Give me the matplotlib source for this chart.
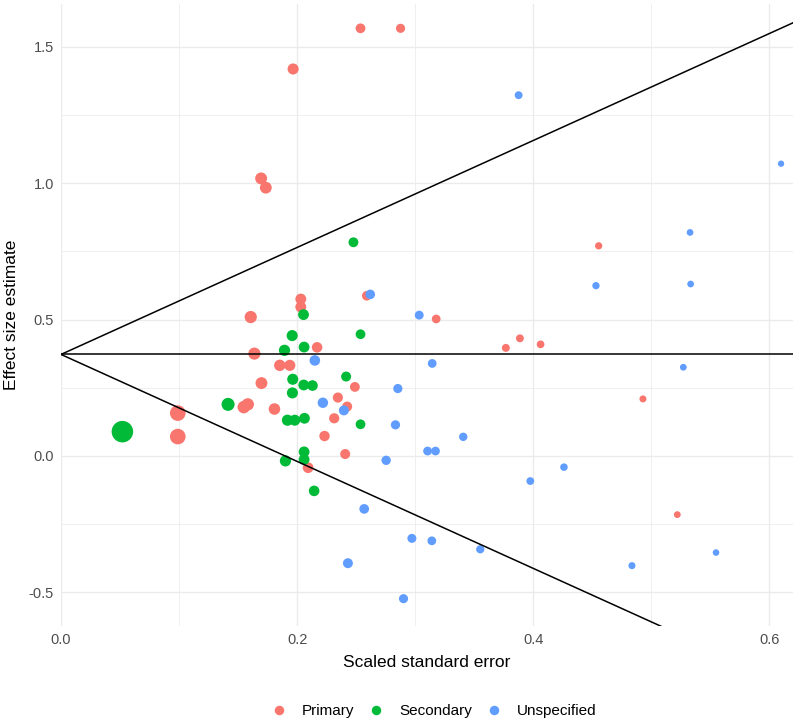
import numpy as np
import matplotlib.pyplot as plt
from matplotlib.ticker import MultipleLocator

plt.rcParams["font.family"] = ["Liberation Sans", "DejaVu Sans"]

# ------------------------------
# Data
# ------------------------------
primary_se = [0.2537, 0.2876, 0.1966, 0.1695, 0.1735, 0.2031, 0.2031, 0.2590,
              0.1607, 0.3178, 0.4554, 0.2169, 0.1638, 0.1853, 0.1938, 0.1698,
              0.2489, 0.2345, 0.1582, 0.1548, 0.1808, 0.2424, 0.0989, 0.2314,
              0.0989, 0.2232, 0.2407, 0.2093, 0.3768, 0.3887, 0.4062, 0.4929,
              0.5220]
primary_es = [1.567, 1.567, 1.418, 1.017, 0.983, 0.575, 0.546, 0.587,
              0.509, 0.502, 0.770, 0.398, 0.375, 0.332, 0.332, 0.267,
              0.253, 0.214, 0.189, 0.179, 0.172, 0.181, 0.157, 0.138,
              0.071, 0.073, 0.007, -0.043, 0.396, 0.431, 0.409, 0.209,
              -0.215]

secondary_se = [0.2477, 0.2054, 0.1958, 0.2537, 0.1893, 0.2059, 0.1963, 0.2415,
                0.2056, 0.2130, 0.1960, 0.1415, 0.1918, 0.1980, 0.2062, 0.2537,
                0.0520, 0.2059, 0.2059, 0.1901, 0.2144]
secondary_es = [0.783, 0.518, 0.441, 0.446, 0.387, 0.399, 0.281, 0.291,
                0.260, 0.258, 0.231, 0.189, 0.131, 0.131, 0.138, 0.116,
                0.089, 0.015, -0.013, -0.018, -0.128]

unspec_se = [0.2619, 0.3034, 0.3876, 0.6099, 0.5328, 0.4531, 0.5333, 0.2150,
             0.3144, 0.2853, 0.2218, 0.2396, 0.2833, 0.3105, 0.3172, 0.2754,
             0.2568, 0.2972, 0.3141, 0.2430, 0.2901, 0.5271, 0.3407, 0.4260,
             0.3975, 0.3551, 0.4836, 0.5548]
unspec_es = [0.592, 0.516, 1.322, 1.071, 0.819, 0.624, 0.630, 0.350,
             0.339, 0.247, 0.195, 0.167, 0.114, 0.018, 0.018, -0.016,
             -0.194, -0.302, -0.311, -0.393, -0.523, 0.325, 0.070, -0.041,
             -0.092, -0.342, -0.402, -0.354]

pooled = 0.372

groups = [("Primary", primary_se, primary_es, "#F8766D"),
          ("Secondary", secondary_se, secondary_es, "#00BA38"),
          ("Unspecified", unspec_se, unspec_es, "#619CFF")]

# ------------------------------
# Plot
# ------------------------------
fig = plt.figure(figsize=(8, 7.2), dpi=100)
ax = fig.add_axes([0.07625, 0.1306, 0.915, 0.8638])

for name, se, es, col in groups:
    se = np.array(se)
    # point area shrinks with the standard error
    ax.scatter(se, es, s=12.5 / se, color=col, edgecolors="none",
               zorder=3, label=name)

# funnel: pooled estimate +/- 1.96 * se
xs = np.array([0, 0.7])
ax.plot(xs, pooled + 1.96 * xs, color="black", lw=1.1, zorder=4)
ax.plot(xs, pooled - 1.96 * xs, color="black", lw=1.1, zorder=4)
ax.axhline(pooled, color="black", lw=1.1, zorder=4)

ax.set_xlim(0, 0.62)
ax.set_ylim(-0.623, 1.656)
ax.xaxis.set_minor_locator(MultipleLocator(0.1))
ax.yaxis.set_minor_locator(MultipleLocator(0.25))
ax.set_xticks([0, 0.2, 0.4, 0.6])
ax.set_xticklabels(["0.0", "0.2", "0.4", "0.6"])
ax.set_yticks([-0.5, 0, 0.5, 1.0, 1.5])
ax.set_yticklabels(["-0.5", "0.0", "0.5", "1.0", "1.5"])

ax.grid(which="major", color="#EBEBEB", lw=1.0)
ax.grid(which="minor", color="#EBEBEB", lw=0.55)
ax.set_axisbelow(True)
for sp in ax.spines.values():
    sp.set_visible(False)
ax.tick_params(which="both", length=0, labelsize=10.5, labelcolor="#4D4D4D", pad=5)

ax.set_xlabel("Scaled standard error", fontsize=12.5, labelpad=6)
ax.set_ylabel("Effect size estimate", fontsize=12.5, labelpad=7)

handles = [plt.Line2D([], [], marker="o", ls="none", color=c, markersize=5.8)
           for _, _, _, c in groups]
fig.legend(handles, [g[0] for g in groups], loc="center", ncol=3,
           bbox_to_anchor=(0.544, 0.0125), frameon=False, fontsize=11,
           handlelength=0.6, handletextpad=1.2, columnspacing=1.14)

fig.savefig("out.png", dpi=100)
